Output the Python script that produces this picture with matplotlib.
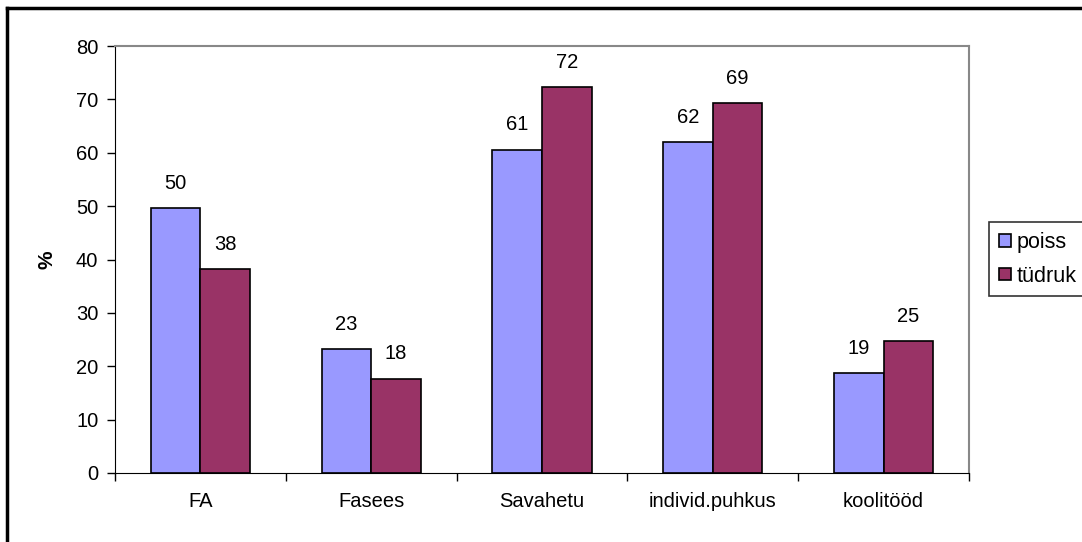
import matplotlib
matplotlib.use("Agg")
import matplotlib.pyplot as plt
import numpy as np
from matplotlib.lines import Line2D

categories = ["FA", "Fasees", "Savahetu", "individ.puhkus", "koolitööd"]
poiss = [49.6, 23.3, 60.6, 62.0, 18.7]
tudruk = [38.2, 17.7, 72.3, 69.4, 24.8]
series_names = ["poiss", "tüdruk"]
yticks = [0, 10, 20, 30, 40, 50, 60, 70, 80]

plt.rcParams['font.family'] = ['Liberation Sans', 'DejaVu Sans']

W, H = 1082, 542
fig = plt.figure(figsize=(W/100, H/100), dpi=100)
ax = fig.add_axes([115/W, 1-473/H, (969-115)/W, (473-46)/H])

x = np.arange(len(categories))
bw = 0.29
b1 = ax.bar(x - bw/2, poiss, bw, color="#9999FF", edgecolor="black", linewidth=1.2, label=series_names[0])
b2 = ax.bar(x + bw/2, tudruk, bw, color="#993366", edgecolor="black", linewidth=1.2, label=series_names[1])

fs = 14.5
for bars, vals in ((b1, poiss), (b2, tudruk)):
    for r, v in zip(bars, vals):
        ax.text(r.get_x() + r.get_width()/2, v + 4.6, f"{round(v):d}", ha="center", va="center", fontsize=fs)

ax.set_xlim(-0.5, len(categories) - 0.5)
ax.set_ylim(0, 80)
ax.set_yticks(yticks)
ax.set_yticklabels([str(t) for t in yticks], fontsize=fs)
ax.set_xticks(np.arange(len(categories) + 1) - 0.5)
ax.set_xticklabels([])
ax.set_xticks(x, minor=True)
ax.set_xticklabels(categories, minor=True, fontsize=fs)
ax.tick_params(axis="x", which="minor", length=0, pad=14)
ax.tick_params(axis="x", which="major", direction="out", length=6, width=1)
ax.tick_params(axis="y", direction="out", length=6, width=1, pad=6)

ax.spines["top"].set_color("#888888")
ax.spines["right"].set_color("#888888")
ax.spines["top"].set_linewidth(1.5)
ax.spines["right"].set_linewidth(1.5)
ax.spines["left"].set_color("black")
ax.spines["bottom"].set_color("black")

ax.set_ylabel("%", fontsize=15, fontweight="bold", labelpad=14)

# legend box
leg = fig.legend(handles=[b1, b2], labels=series_names, loc="upper left",
                 bbox_to_anchor=(989/W, 1-222/H), fontsize=15.5, frameon=True,
                 fancybox=False, edgecolor="black", handlelength=0.55, handleheight=0.55,
                 handletextpad=0.3, borderpad=0.45, borderaxespad=0, labelspacing=0.6)
leg.get_frame().set_linewidth(1.2)

# outer border lines (left and top)
fig.add_artist(Line2D([7/W, 7/W], [0, 1-8/H], color="black", linewidth=2.5, transform=fig.transFigure))
fig.add_artist(Line2D([7/W, 1], [1-8/H, 1-8/H], color="black", linewidth=2.5, transform=fig.transFigure))

fig.savefig("out.png", dpi=100)
